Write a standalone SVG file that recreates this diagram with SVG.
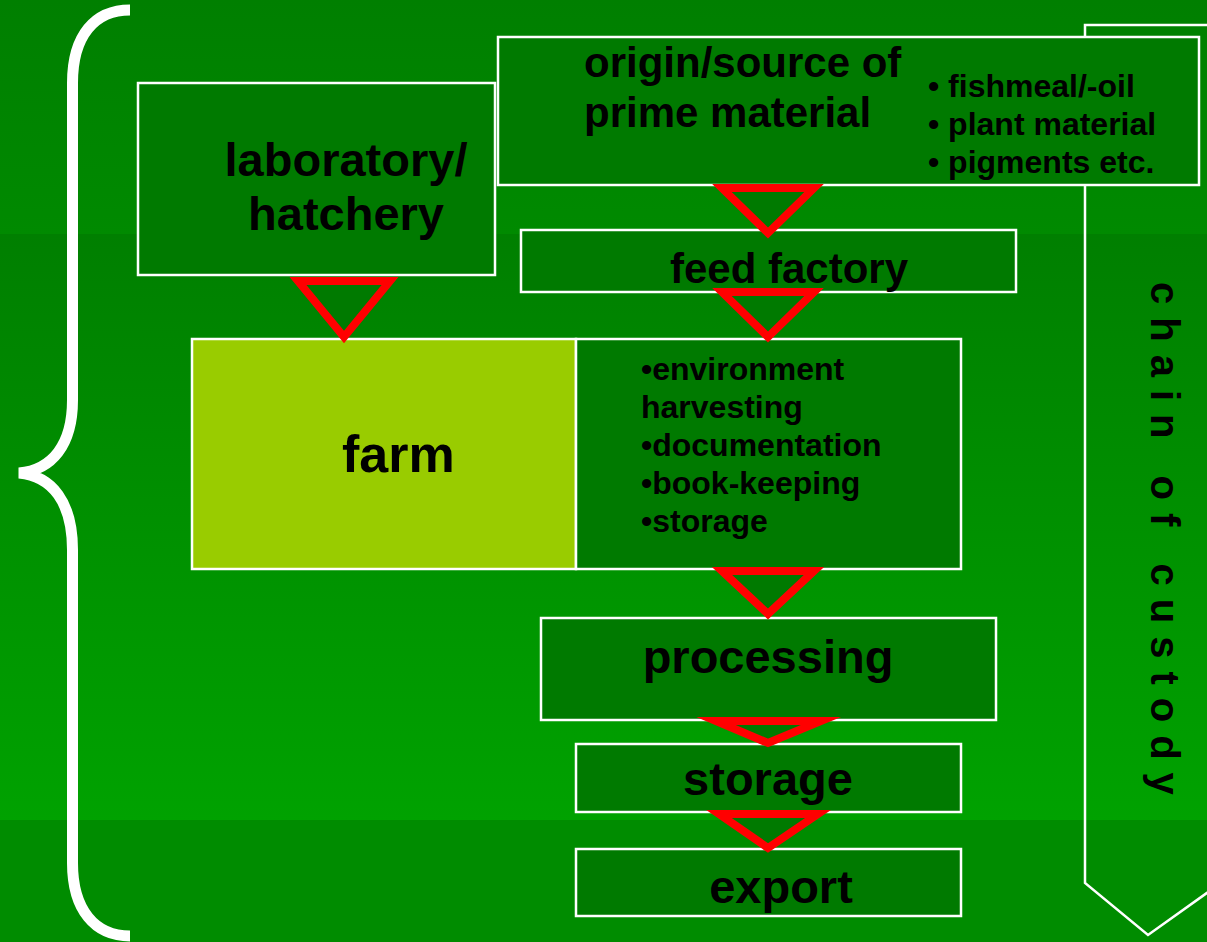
<svg xmlns="http://www.w3.org/2000/svg" width="1207" height="942" viewBox="0 0 1207 942">
<defs>
<linearGradient id="gTop" x1="0" y1="0" x2="0" y2="1"><stop offset="0" stop-color="#007F00"/><stop offset="1" stop-color="#008A00"/></linearGradient>
<linearGradient id="gMid" x1="0" y1="0" x2="0" y2="1"><stop offset="0" stop-color="#007F00"/><stop offset="1" stop-color="#00A200"/></linearGradient>
</defs>
<style>
.box{fill:#007A00;stroke:#FFFFFF;stroke-width:2.5}
.tri{fill:#007A00;stroke:#FF0000;stroke-width:8;stroke-linejoin:miter;stroke-miterlimit:10}
.t{font-family:"Liberation Sans",Arial,sans-serif;font-weight:bold;fill:#000000}
.big{font-size:47px}
.mid{font-size:42px}
.sm{font-size:32px}
</style>
<rect x="0" y="0" width="1207" height="234" fill="url(#gTop)"/>
<rect x="0" y="234" width="1207" height="586" fill="url(#gMid)"/>
<rect x="0" y="820" width="1207" height="122" fill="#008C00"/>

<g id="brace">
<path d="M130,10 C95,10 72.5,35 72.5,83 L72.5,400 C72.5,445 52,470 19,473 C52,476 72.5,502 72.5,550 L72.5,863 C72.5,910 95,936 130,936" fill="none" stroke="#FFFFFF" stroke-width="11" stroke-linejoin="miter"/>
</g>

<g id="chain-of-custody">
<path d="M1225,25 L1085,25 L1085,883 L1148,935 L1225,880" fill="none" stroke="#FFFFFF" stroke-width="2.5"/>
<text class="t" font-size="40" letter-spacing="13" transform="translate(1151,282) rotate(90)" x="0" y="0">chain of custody</text>
</g>

<g id="lab">
<rect class="box" x="138" y="83" width="357" height="192"/>
<text class="t big" x="346" y="176" text-anchor="middle">laboratory/</text>
<text class="t big" x="346" y="230" text-anchor="middle">hatchery</text>
</g>

<g id="origin">
<rect class="box" x="498" y="37" width="701" height="148"/>
<text class="t mid" x="584" y="77">origin/source of</text>
<text class="t mid" x="584" y="127">prime material</text>
<text class="t sm" x="928" y="97">• fishmeal/-oil</text>
<text class="t sm" x="928" y="135">• plant material</text>
<text class="t sm" x="928" y="173">• pigments etc.</text>
</g>

<g id="feed">
<rect class="box" x="521" y="230" width="495" height="62"/>
<text class="t mid" x="670" y="283">feed factory</text>
</g>

<g id="farm">
<rect x="192" y="339" width="384" height="230" fill="#99CC00" stroke="#FFFFFF" stroke-width="2.5"/>
<rect class="box" x="576" y="339" width="385" height="230"/>
<text class="t" font-size="52" x="342" y="472">farm</text>
<text class="t sm" x="641" y="380">•environment</text>
<text class="t sm" x="641" y="418">harvesting</text>
<text class="t sm" x="641" y="456">•documentation</text>
<text class="t sm" x="641" y="494">•book-keeping</text>
<text class="t sm" x="641" y="532">•storage</text>
</g>

<g id="processing">
<rect class="box" x="541" y="618" width="455" height="102"/>
<text class="t big" x="768" y="673" text-anchor="middle">processing</text>
</g>

<g id="storage">
<rect class="box" x="576" y="744" width="385" height="68"/>
<text class="t big" x="768" y="795" text-anchor="middle">storage</text>
</g>

<g id="export">
<rect class="box" x="576" y="849" width="385" height="67"/>
<text class="t big" x="781" y="903" text-anchor="middle">export</text>
</g>

<g id="connectors">
<polygon class="tri" points="298,281 390,281 344,337"/>
<polygon class="tri" points="722,188 814,188 768,233"/>
<polygon class="tri" points="722,292 814,292 768,337"/>
<polygon class="tri" points="722,571 814,571 768,614"/>
<polygon class="tri" points="716,721 821,721 768,743"/>
<polygon class="tri" points="719,814 818,814 768,848"/>
</g>
</svg>
